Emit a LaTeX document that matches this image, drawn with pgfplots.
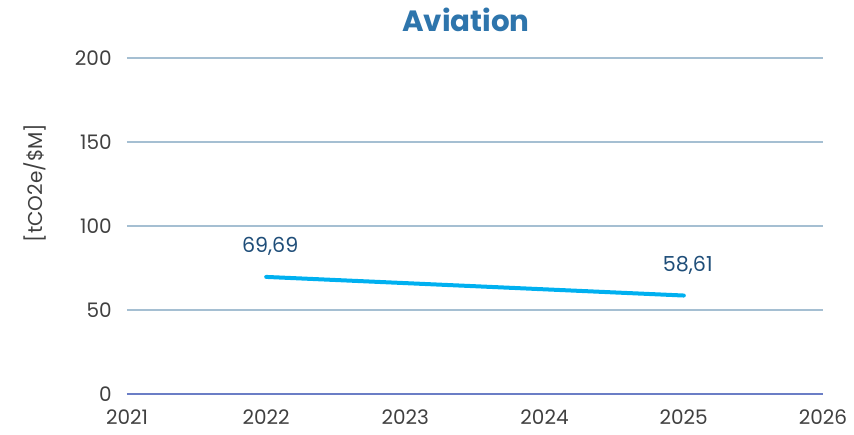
\documentclass[border=0pt]{standalone}
\usepackage{pgfplots}
\pgfplotsset{compat=1.18}
\usepackage{fontspec}
\setmainfont{Poppins}
\definecolor{titlecol}{HTML}{2E75AC}
\definecolor{linecol}{HTML}{00B0F0}
\definecolor{labcol}{HTML}{1F4E79}
\definecolor{tickcol}{HTML}{404040}
\definecolor{gridcol}{HTML}{A5BFD2}
\definecolor{zerocol}{HTML}{6B7EC6}
\begin{document}
\begin{tikzpicture}
\path[use as bounding box] (-95.25pt,-30.75pt) rectangle (545.25pt,295.5pt);
\begin{axis}[
  scale only axis,
  width=522pt, height=252pt,
  at={(0,0)}, anchor=south west,
  xmin=2021, xmax=2026, ymin=0, ymax=200,
  xtick={2021,...,2026}, ytick={0,50,...,200},
  /pgf/number format/1000 sep={},
  /pgf/number format/assume math mode=true,
  axis line style={draw=none},
  major tick length=0pt,
  ymajorgrids, grid style={gridcol, line width=0.9pt},
  tick label style={font=\fontsize{15}{17}\selectfont, text=tickcol},
  yticklabel style={xshift=-8pt},
  xticklabel style={yshift=-8pt},
  clip=false,
]
\draw[zerocol, line width=1pt] (axis cs:2021,0) -- (axis cs:2026,0);
\addplot[linecol, line width=3pt, line cap=round,
  nodes near coords, point meta=explicit symbolic,
  nodes near coords style={font=\fontsize{15.5}{17}\selectfont, text=labcol, anchor=south, yshift=11pt, xshift=3pt}]
  coordinates {(2022,69.69) [69,69] (2025,58.61) [58,61]};
\node[font=\fontsize{22}{25}\bfseries, text=titlecol] at (rel axis cs:0.487,1.113) {Aviation};
\node[rotate=90, font=\fontsize{15}{17}\selectfont, text=tickcol] at (rel axis cs:-0.132,0.628) {[tCO2e/\$M]};
\end{axis}
\end{tikzpicture}
\end{document}
